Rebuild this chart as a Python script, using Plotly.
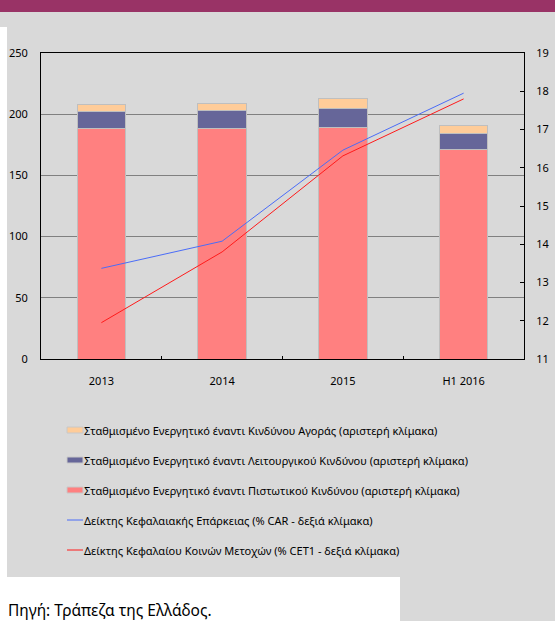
import plotly.graph_objects as go

# ---------------- data ----------------
categories = ["2013", "2014", "2015", "H1 2016"]
credit_rwa = [188.5, 188.5, 189.5, 171.3]
operational_rwa = [14.0, 14.4, 15.5, 13.1]
market_rwa = [5.6, 6.0, 8.0, 6.5]
car_ratio = [13.37, 14.08, 16.46, 17.95]
cet1_ratio = [11.95, 13.80, 16.31, 17.80]

left_ticks = [0, 50, 100, 150, 200, 250]
right_ticks = list(range(11, 20))

names = [
    "Σταθμισμένο Ενεργητικό έναντι Κινδύνου Αγοράς (αριστερή κλίμακα)",
    "Σταθμισμένο Ενεργητικό έναντι Λειτουργικού Κινδύνου (αριστερή κλίμακα)",
    "Σταθμισμένο Ενεργητικό έναντι Πιστωτικού Κινδύνου (αριστερή κλίμακα)",
    "Δείκτης Κεφαλαιακής Επάρκειας (% CAR - δεξιά κλίμακα)",
    "Δείκτης Κεφαλαίου Κοινών Μετοχών (% CET1 - δεξιά κλίμακα)",
]
source_text = "Πηγή: Τράπεζα της Ελλάδος."

# ---------------- styles ----------------
W, H = 555, 621
L, R, T, B = 41, 524, 53, 359
C_MARKET = "#FFCC99"
C_OPER = "#666699"
C_CREDIT = "#FF8080"
C_CAR = "#4A6CF7"
C_CET1 = "#FF1A1A"
GRAY = "#D9D9D9"
FONT = "Noto Sans"


def px_x(p):
    return (p - L) / (R - L)


def px_y(p):
    return (B - p) / (B - T)


fig = go.Figure()
bar_line = dict(color="#BFBFBF", width=1)
fig.add_trace(go.Bar(x=categories, y=credit_rwa, name=names[2], marker=dict(color=C_CREDIT, line=bar_line), showlegend=False))
fig.add_trace(go.Bar(x=categories, y=operational_rwa, name=names[1], marker=dict(color=C_OPER, line=bar_line), showlegend=False))
fig.add_trace(go.Bar(x=categories, y=market_rwa, name=names[0], marker=dict(color=C_MARKET, line=bar_line), showlegend=False))
fig.add_trace(go.Scatter(x=categories, y=car_ratio, name=names[3], mode="lines", line=dict(color=C_CAR, width=1), yaxis="y2", showlegend=False))
fig.add_trace(go.Scatter(x=categories, y=cet1_ratio, name=names[4], mode="lines", line=dict(color=C_CET1, width=1), yaxis="y2", showlegend=False))

shapes = [
    # gray panel
    dict(type="rect", xref="paper", yref="paper", x0=px_x(7), x1=px_x(560), y0=px_y(577), y1=px_y(12),
         fillcolor=GRAY, line=dict(width=0), layer="below"),
    dict(type="rect", xref="paper", yref="paper", x0=px_x(-5), x1=px_x(560), y0=px_y(27), y1=px_y(12),
         fillcolor=GRAY, line=dict(width=0), layer="below"),
    dict(type="rect", xref="paper", yref="paper", x0=px_x(400), x1=px_x(560), y0=px_y(630), y1=px_y(570),
         fillcolor=GRAY, line=dict(width=0), layer="below"),
    # purple band
    dict(type="rect", xref="paper", yref="paper", x0=px_x(-5), x1=px_x(560), y0=px_y(12), y1=px_y(-5),
         fillcolor="#993366", line=dict(width=0), layer="below"),
]

annotations = []
legend_rows = [430, 460, 490, 520, 550]
legend_kinds = [("bar", C_MARKET), ("bar", C_OPER), ("bar", C_CREDIT), ("line", C_CAR), ("line", C_CET1)]
for (kind, col), name, yy in zip(legend_kinds, names, legend_rows):
    if kind == "bar":
        shapes.append(dict(type="rect", xref="paper", yref="paper", x0=px_x(67), x1=px_x(83),
                           y0=px_y(yy + 3), y1=px_y(yy - 3), fillcolor=col, line=dict(color="#C8C8C8", width=1)))
    else:
        shapes.append(dict(type="line", xref="paper", yref="paper", x0=px_x(67), x1=px_x(83),
                           y0=px_y(yy), y1=px_y(yy), line=dict(color=col, width=1)))
    annotations.append(dict(text=name, xref="paper", yref="paper", x=px_x(82), y=px_y(yy),
                            xanchor="left", yanchor="middle", showarrow=False,
                            font=dict(family=FONT, size=11, color="#000000")))

annotations.append(dict(text=source_text, xref="paper", yref="paper", x=px_x(6), y=px_y(610),
                        xanchor="left", yanchor="middle", showarrow=False,
                        font=dict(family=FONT, size=15.5, color="#000000")))

fig.update_layout(
    width=W, height=H,
    autosize=False,
    margin=dict(l=L, r=W - R, t=T, b=H - B, pad=0, autoexpand=False),
    paper_bgcolor="white",
    plot_bgcolor=GRAY,
    barmode="stack",
    bargap=0.6,
    showlegend=False,
    font=dict(family=FONT, size=11, color="#000000"),
    shapes=shapes,
    annotations=annotations,
    xaxis=dict(
        type="category", showline=True, linecolor="#000000", linewidth=1, mirror=True,
        ticks="inside", ticklen=3, tickcolor="#000000", tickson="boundaries",
        showgrid=False, ticklabelstandoff=12, tickfont=dict(size=11), automargin=False,
    ),
    yaxis=dict(
        range=[0, 250], tickvals=left_ticks, showline=True, linecolor="#000000", linewidth=1,
        showgrid=True, gridcolor="#808080", gridwidth=1, zeroline=False, ticks="",
        ticklabelstandoff=10, tickfont=dict(size=11), automargin=False,
    ),
    yaxis2=dict(
        range=[11, 19], tickvals=right_ticks, overlaying="y", side="right", showline=True,
        linecolor="#000000", linewidth=1, ticks="inside", ticklen=4, tickcolor="#000000",
        showgrid=False, zeroline=False, ticklabelstandoff=9, tickfont=dict(size=11), automargin=False,
    ),
)

fig.write_html(
    "out.html",
    config={"displayModeBar": False},
    post_script="document.body.style.margin='0';document.body.style.overflow='hidden';",
)
